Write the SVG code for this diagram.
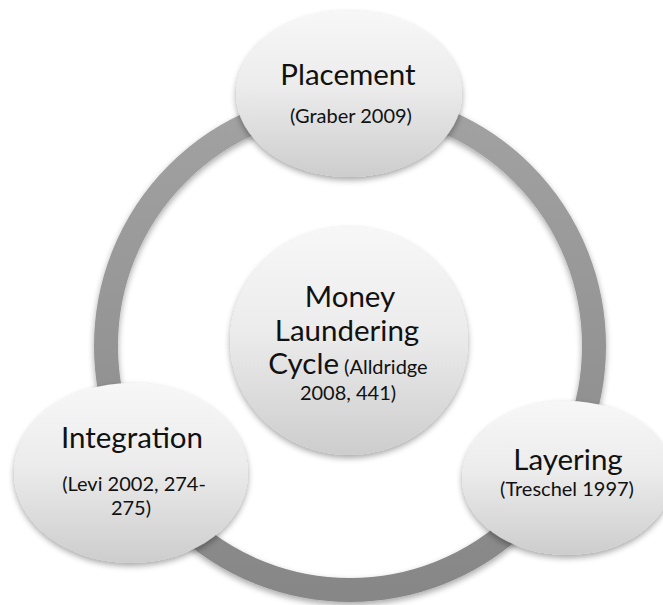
<svg xmlns="http://www.w3.org/2000/svg" width="663" height="605" viewBox="0 0 663 605">
  <style>
    .node { fill: url(#nodeFill); filter: url(#softShadow); }
    .title { font-family: Lato, "Open Sans", "Liberation Sans", sans-serif; font-size: 29.5px; fill: #111; text-anchor: middle; }
    .ref { font-family: Lato, "Open Sans", "Liberation Sans", sans-serif; font-size: 20px; fill: #111; text-anchor: middle; }
  </style>
  <defs>
    <linearGradient id="nodeFill" x1="0" y1="0" x2="0" y2="1">
      <stop offset="0" stop-color="#f7f7f7"/>
      <stop offset="0.45" stop-color="#ececec"/>
      <stop offset="1" stop-color="#cdcdcd"/>
    </linearGradient>
    <linearGradient id="ringFill" x1="0" y1="0" x2="0" y2="1">
      <stop offset="0" stop-color="#a2a2a2"/>
      <stop offset="1" stop-color="#878787"/>
    </linearGradient>
    <filter id="softShadow" x="-20%" y="-20%" width="140%" height="150%">
      <feGaussianBlur in="SourceAlpha" stdDeviation="3"/>
      <feOffset dx="0" dy="3" result="blur"/>
      <feComponentTransfer><feFuncA type="linear" slope="0.35"/></feComponentTransfer>
      <feMerge><feMergeNode/><feMergeNode in="SourceGraphic"/></feMerge>
    </filter>
  </defs>

  <rect width="663" height="605" fill="#ffffff"/>

  <!-- cycle ring behind the stages -->
  <g id="connectors">
    <circle cx="350" cy="346" r="244" fill="none" stroke="url(#ringFill)" stroke-width="24" filter="url(#softShadow)"/>
  </g>

  <g id="center">
    <ellipse class="node" cx="349" cy="341" rx="119" ry="114"/>
    <text class="title" x="350" y="307">Money</text>
    <text class="title" x="347" y="341">Laundering</text>
    <text x="348" y="374" text-anchor="middle" fill="#111" font-family="Lato, 'Open Sans', 'Liberation Sans', sans-serif"><tspan font-size="29.5">Cycle</tspan><tspan font-size="20"> (Alldridge</tspan></text>
    <text class="ref" x="348" y="400">2008, 441)</text>
  </g>

  <g id="placement">
    <ellipse class="node" cx="349" cy="94" rx="113" ry="83"/>
    <text class="title" x="348" y="85">Placement</text>
    <text class="ref" x="351" y="123">(Graber 2009)</text>
  </g>

  <g id="layering">
    <ellipse class="node" cx="567" cy="478" rx="105" ry="77"/>
    <text class="title" x="568" y="470">Layering</text>
    <text class="ref" x="567" y="496">(Treschel 1997)</text>
  </g>

  <g id="integration">
    <ellipse class="node" cx="131" cy="473" rx="117" ry="90"/>
    <text class="title" x="132" y="448">Integration</text>
    <text class="ref" x="134" y="491">(Levi 2002, 274-</text>
    <text class="ref" x="131" y="515">275)</text>
  </g>
</svg>
